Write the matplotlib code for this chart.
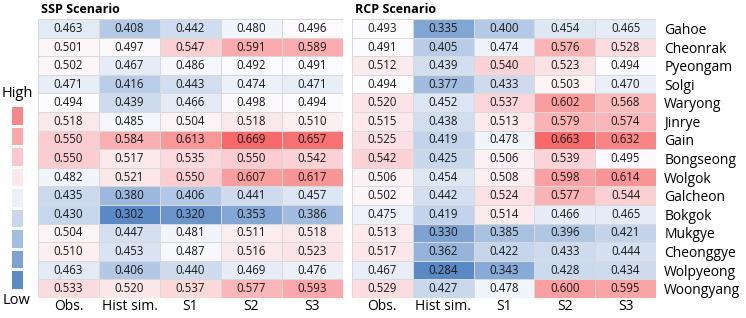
import numpy as np
import matplotlib
matplotlib.use("Agg")
import matplotlib.pyplot as plt
from matplotlib.colors import LinearSegmentedColormap, TwoSlopeNorm

plt.rcParams['font.family'] = ['Open Sans', 'DejaVu Sans']

stations = ["Gahoe", "Cheonrak", "Pyeongam", "Solgi", "Waryong", "Jinrye", "Gain",
            "Bongseong", "Wolgok", "Galcheon", "Bokgok", "Mukgye", "Cheonggye",
            "Wolpyeong", "Woongyang"]
columns = ["Obs.", "Hist sim.", "S1", "S2", "S3"]

ssp = [
    [0.463, 0.408, 0.442, 0.480, 0.496],
    [0.501, 0.497, 0.547, 0.591, 0.589],
    [0.502, 0.467, 0.486, 0.492, 0.491],
    [0.471, 0.416, 0.443, 0.474, 0.471],
    [0.494, 0.439, 0.466, 0.498, 0.494],
    [0.518, 0.485, 0.504, 0.518, 0.510],
    [0.550, 0.584, 0.613, 0.669, 0.657],
    [0.550, 0.517, 0.535, 0.550, 0.542],
    [0.482, 0.521, 0.550, 0.607, 0.617],
    [0.435, 0.380, 0.406, 0.441, 0.457],
    [0.430, 0.302, 0.320, 0.353, 0.386],
    [0.504, 0.447, 0.481, 0.511, 0.518],
    [0.510, 0.453, 0.487, 0.516, 0.523],
    [0.463, 0.406, 0.440, 0.469, 0.476],
    [0.533, 0.520, 0.537, 0.577, 0.593],
]
rcp = [
    [0.493, 0.335, 0.400, 0.454, 0.465],
    [0.491, 0.405, 0.474, 0.576, 0.528],
    [0.512, 0.439, 0.540, 0.523, 0.494],
    [0.494, 0.377, 0.433, 0.503, 0.470],
    [0.520, 0.452, 0.537, 0.602, 0.568],
    [0.515, 0.438, 0.513, 0.579, 0.574],
    [0.525, 0.419, 0.478, 0.663, 0.632],
    [0.542, 0.425, 0.506, 0.539, 0.495],
    [0.506, 0.454, 0.508, 0.598, 0.614],
    [0.502, 0.442, 0.524, 0.577, 0.544],
    [0.475, 0.419, 0.514, 0.466, 0.465],
    [0.513, 0.330, 0.385, 0.396, 0.421],
    [0.517, 0.362, 0.422, 0.433, 0.444],
    [0.467, 0.284, 0.343, 0.428, 0.434],
    [0.529, 0.427, 0.478, 0.600, 0.595],
]

cmap = LinearSegmentedColormap.from_list("excel", ["#5A8AC6", "#FCFCFF", "#F8696B"])

fig = plt.figure(figsize=(7.46, 3.18), dpi=100)


def draw_table(rect, data, title, show_names):
    ax = fig.add_axes(rect)
    d = np.array(data)
    norm = TwoSlopeNorm(vcenter=np.median(d), vmin=d.min(), vmax=d.max())
    ax.pcolormesh(d, cmap=cmap, norm=norm, edgecolors="#D9D9D9", linewidth=0.7)
    for i in range(d.shape[0]):
        for j in range(d.shape[1]):
            ax.text(j + 0.5, i + 0.5, "%.3f" % d[i, j], ha="center", va="center",
                    fontsize=8.3, color="#1a1a1a")
    ax.set_xlim(0, d.shape[1])
    ax.set_ylim(d.shape[0], 0)
    ax.set_xticks(np.arange(d.shape[1]) + 0.5)
    ax.set_xticklabels(columns, fontsize=10)
    ax.tick_params(length=0, pad=1)
    if show_names:
        ax.yaxis.tick_right()
        ax.set_yticks(np.arange(d.shape[0]) + 0.5)
        ax.set_yticklabels(stations, fontsize=10)
        ax.tick_params(axis="y", pad=6)
    else:
        ax.set_yticks([])
    for s in ax.spines.values():
        s.set_visible(False)
    ax.text(0.01, 1.01, title, transform=ax.transAxes, fontsize=9, fontweight="bold",
            ha="left", va="bottom")
    return ax


draw_table([0.0509, 0.0629, 0.4088, 0.877], ssp, "SSP Scenario", False)
draw_table([0.4718, 0.0629, 0.4075, 0.877], rcp, "RCP Scenario", True)

# legend bar
cax = fig.add_axes([10 / 746, 28 / 318, 14 / 746, 185 / 318])
levels = np.linspace(0, 0.9, 9).reshape(-1, 1)
cax.pcolormesh(levels, cmap=cmap, vmin=0, vmax=1, edgecolors="white", linewidth=0.8)
cax.set_xlim(0, 1)
cax.set_ylim(0, 9)
cax.axis("off")
fig.text(17 / 746, 1 - 94 / 318, "High", ha="center", va="center", fontsize=10.5)
fig.text(17 / 746, 1 - 300 / 318, "Low", ha="center", va="center", fontsize=10.5)

fig.savefig("out.png", dpi=100)
